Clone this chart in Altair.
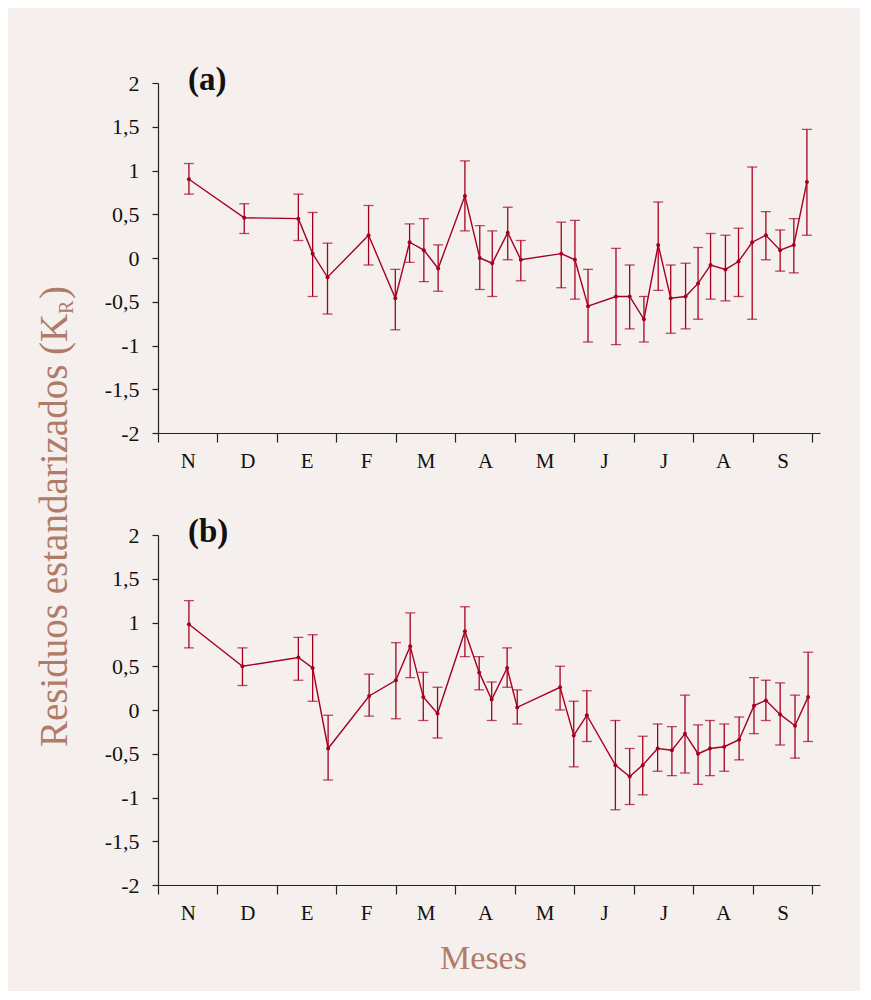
import altair as alt
import pandas as pd

# ---------------- data ----------------
months = ["N", "D", "E", "F", "M", "A", "M", "J", "J", "A", "S"]
y_ticks = [-2, -1.5, -1, -0.5, 0, 0.5, 1, 1.5, 2]

# panel (a)
xa = [0.52, 1.45, 2.36, 2.60, 2.85, 3.54, 3.99, 4.23, 4.47, 4.71, 5.16, 5.41, 5.62,
      5.88, 6.10, 6.78, 7.01, 7.23, 7.70, 7.93, 8.17, 8.41, 8.62, 8.87, 9.08, 9.29,
      9.54, 9.76, 9.99, 10.22, 10.46, 10.69, 10.91]
ya = [0.90, 0.46, 0.45, 0.05, -0.22, 0.26, -0.46, 0.18, 0.09, -0.12, 0.71, 0.00, -0.06,
      0.29, -0.02, 0.05, -0.02, -0.55, -0.44, -0.44, -0.70, 0.15, -0.46, -0.44, -0.29,
      -0.08, -0.13, -0.04, 0.18, 0.26, 0.09, 0.15, 0.87]
hi_a = [1.08, 0.62, 0.73, 0.52, 0.17, 0.60, -0.13, 0.39, 0.45, 0.15, 1.11, 0.37, 0.31,
        0.58, 0.20, 0.41, 0.43, -0.13, 0.11, -0.08, -0.44, 0.64, -0.08, -0.06, 0.12,
        0.28, 0.26, 0.34, 1.04, 0.53, 0.32, 0.45, 1.47]
lo_a = [0.73, 0.28, 0.20, -0.44, -0.64, -0.08, -0.82, -0.05, -0.27, -0.38, 0.31, -0.36,
        -0.44, -0.02, -0.26, -0.34, -0.47, -0.96, -0.99, -0.81, -0.96, -0.37, -0.86,
        -0.81, -0.70, -0.47, -0.49, -0.44, -0.70, -0.02, -0.15, -0.17, 0.26]

# panel (b)
xb = [0.52, 1.42, 2.36, 2.60, 2.86, 3.55, 4.00, 4.24, 4.46, 4.70, 5.16, 5.40, 5.61,
      5.87, 6.04, 6.76, 6.99, 7.21, 7.69, 7.93, 8.15, 8.40, 8.64, 8.86, 9.08, 9.28,
      9.52, 9.77, 10.02, 10.22, 10.46, 10.71, 10.93]
yb = [0.98, 0.50, 0.60, 0.48, -0.44, 0.16, 0.34, 0.73, 0.15, -0.04, 0.90, 0.43, 0.12,
      0.48, 0.03, 0.26, -0.29, -0.06, -0.63, -0.76, -0.63, -0.44, -0.46, -0.27, -0.50,
      -0.44, -0.42, -0.34, 0.05, 0.11, -0.05, -0.18, 0.15]
hi_b = [1.25, 0.71, 0.83, 0.86, -0.06, 0.41, 0.77, 1.11, 0.43, 0.26, 1.18, 0.61, 0.32,
        0.71, 0.23, 0.50, 0.10, 0.22, -0.12, -0.44, -0.30, -0.16, -0.19, 0.17, -0.17,
        -0.12, -0.16, -0.08, 0.37, 0.34, 0.31, 0.17, 0.66]
lo_b = [0.71, 0.28, 0.34, 0.10, -0.80, -0.07, -0.10, 0.37, -0.12, -0.32, 0.61, 0.23,
        -0.12, 0.26, -0.16, 0.00, -0.65, -0.36, -1.14, -1.08, -0.97, -0.70, -0.75, -0.72,
        -0.85, -0.75, -0.70, -0.57, -0.27, -0.12, -0.40, -0.55, -0.36]

# ---------------- style ----------------
RED = "#a50021"
BROWN = "#b07c69"
BG = "#f5f0ed"
FONT = "Liberation Serif"
W, H = 662, 350
X_DOMAIN = [0, 11.13]

month_expr = "[" + ",".join("'" + m + "'" for m in months) + "][floor(datum.value)]"
x_label_expr = "datum.value % 1 == 0.5 ? " + month_expr + " : ''"
x_values = [i * 0.5 for i in range(2 * len(months) + 1)]


def panel(x, y, lo, hi, tag, with_title):
    df = pd.DataFrame({"x": x, "y": y, "lo": lo, "hi": hi})
    axis_kw = dict(
        values=x_values,
        labelExpr=x_label_expr,
        tickOpacity={"condition": {"test": "datum.value % 1 != 0", "value": 0}, "value": 1},
        grid=False,
        tickSize=9,
        labelPadding=8,
        labelFontSize=21,
        labelOverlap=False,
        labelFlush=False,
    )
    if with_title:
        axis_kw.update(title="Meses", titleFontSize=34, titleColor=BROWN,
                       titlePadding=18, titleFontWeight="normal", titleX=325)
    else:
        axis_kw.update(title="")
    xenc = alt.X("x:Q", scale=alt.Scale(domain=X_DOMAIN, nice=False, zero=False),
                 axis=alt.Axis(**axis_kw))
    yaxis = alt.Axis(values=y_ticks,
                     labelExpr="replace(toString(datum.value), '.', ',')",
                     grid=False, tickSize=6, labelPadding=13, labelFontSize=22,
                     title="")
    yscale = alt.Scale(domain=[-2, 2], nice=False, zero=False)
    base = alt.Chart(df)
    err = base.mark_errorbar(ticks=True, size=10, thickness=1.3, color=RED).encode(
        x=xenc,
        y=alt.Y("lo:Q", scale=yscale, axis=yaxis, title=""),
        y2="hi:Q",
    )
    line = base.mark_line(color=RED, strokeWidth=1.4).encode(
        x=xenc, y=alt.Y("y:Q", scale=yscale, axis=yaxis, title=""))
    pts = base.mark_circle(color=RED, size=16, opacity=1).encode(
        x=xenc, y=alt.Y("y:Q", scale=yscale, axis=yaxis, title=""))
    return alt.layer(err, line, pts).properties(
        width=W, height=H,
        title=alt.TitleParams(tag, anchor="start", frame="group", dx=30, offset=-51,
                              baseline="alphabetic", fontSize=33, font=FONT,
                              fontWeight="bold", color="#111"),
    )


pa = panel(xa, ya, lo_a, hi_a, "(a)", False)
pb = panel(xb, yb, lo_b, hi_b, "(b)", True)
V = alt.vconcat(pa, pb, spacing=45)

# y-axis title (rotated, with subscript)
tdf = pd.DataFrame({"k": [0]})
tbase = alt.Chart(tdf)
t_main = tbase.mark_text(text="Residuos estandarizados (K", angle=270, align="left",
                         baseline="alphabetic", font=FONT, fontSize=39,
                         color=BROWN).encode(x=alt.value(59), y=alt.value(664))
t_sub = tbase.mark_text(text="R", angle=270, align="left", baseline="alphabetic",
                        font=FONT, fontSize=20, color=BROWN).encode(
    x=alt.value(65), y=alt.value(231))
t_end = tbase.mark_text(text=")", angle=270, align="left", baseline="alphabetic",
                        font=FONT, fontSize=39, color=BROWN).encode(
    x=alt.value(59), y=alt.value(216))
T = alt.layer(t_main, t_sub, t_end).properties(width=96, height=700)

chart = alt.hconcat(T, V, spacing=0).properties(
    padding={"left": 0, "top": 56, "right": 40, "bottom": 16},
    background=BG,
).configure_view(stroke=None).configure_axis(
    domainColor="#222", tickColor="#222", domainWidth=1.2, tickWidth=1.2,
    labelFont=FONT, labelColor="#111", titleFont=FONT,
)

chart.save("out.html", embed_options={"renderer": "svg", "actions": False})
